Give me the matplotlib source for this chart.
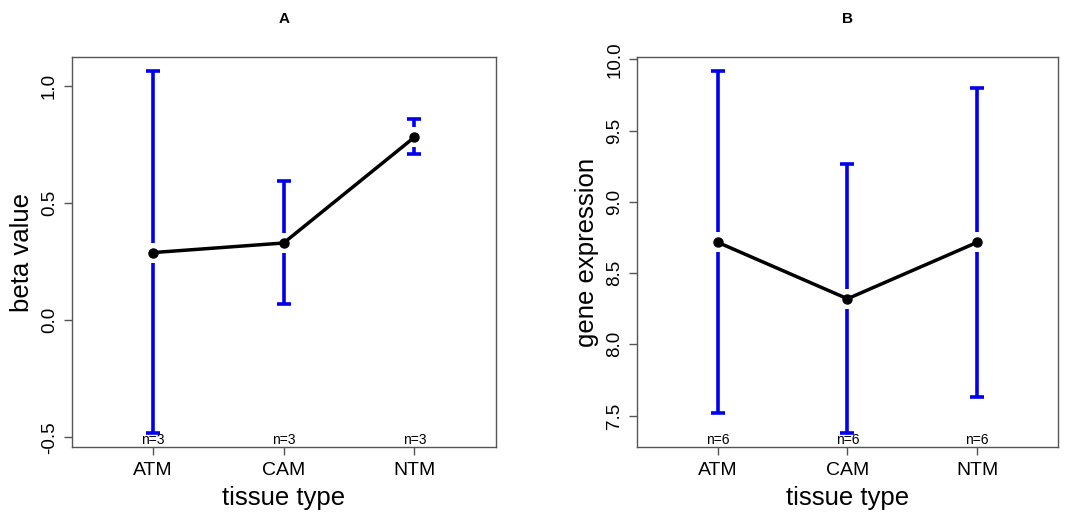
import matplotlib.pyplot as plt

plt.rcParams['font.family'] = ['Liberation Sans', 'DejaVu Sans']

# tissue groups
groups = ['ATM', 'CAM', 'NTM']

# panel A: methylation beta value (mean and CI ends)
beta_mean = [0.289, 0.330, 0.782]
beta_upper = [1.063, 0.594, 0.860]
beta_lower = [-0.482, 0.068, 0.708]
beta_n = [3, 3, 3]

# panel B: gene expression (mean and CI ends)
expr_mean = [8.716, 8.320, 8.716]
expr_upper = [9.916, 9.263, 9.796]
expr_lower = [7.516, 7.380, 7.630]
expr_n = [6, 6, 6]

fig = plt.figure(figsize=(10.84, 5.21), dpi=100)
axA = fig.add_axes([0.0661, 0.1426, 0.3911, 0.7474])
axB = fig.add_axes([0.5879, 0.1426, 0.3878, 0.7474])


def mean_plot(ax, mean, upper, lower, n, ylim, yticks, ylabel, title):
    x = list(range(1, len(groups) + 1))
    ax.set_xlim(0.38, 3.62)
    ax.set_ylim(*ylim)
    # gap of ~10 px around each mean point, like plotmeans
    gap = (ylim[1] - ylim[0]) * 10 / 389.4
    for xi, m, u, l in zip(x, mean, upper, lower):
        ax.vlines(xi, m + gap, u, color='#0000ee', lw=2.6, zorder=2)
        ax.vlines(xi, l, m - gap, color='#0000ee', lw=2.6, zorder=2)
    ax.plot(x, upper, ls='none', marker='_', ms=9.5, mew=2.6, color='#0000ee', zorder=2)
    ax.plot(x, lower, ls='none', marker='_', ms=9.5, mew=2.6, color='#0000ee', zorder=2)
    ax.plot(x, mean, color='black', lw=2.5, marker='o', ms=6.5, zorder=3)
    for xi, k in zip(x, n):
        ax.text(xi, ylim[0], f'n={k}', ha='center', va='bottom', fontsize=10)

    ax.set_xticks(x)
    ax.set_xticklabels(groups, fontsize=14)
    ax.set_yticks(yticks)
    ax.set_yticklabels([f'{t:.1f}' for t in yticks], fontsize=13.5,
                       rotation=90, va='center')
    ax.tick_params(length=6, width=1, color='#555555', pad=4)
    ax.tick_params(axis='x', pad=5)
    for s in ax.spines.values():
        s.set_color('#555555')
        s.set_linewidth(1)
    ax.set_xlabel('tissue type', fontsize=18.5, labelpad=5)
    ax.set_ylabel(ylabel, fontsize=18.5, labelpad=5)
    ax.set_title(title, fontsize=11, fontweight='bold', pad=25)


mean_plot(axA, beta_mean, beta_upper, beta_lower, beta_n,
          (-0.540, 1.123), [-0.5, 0.0, 0.5, 1.0], 'beta value', 'A')
mean_plot(axB, expr_mean, expr_upper, expr_lower, expr_n,
          (7.282, 10.014), [7.5, 8.0, 8.5, 9.0, 9.5, 10.0], 'gene expression', 'B')

fig.savefig('out.png', dpi=100)
